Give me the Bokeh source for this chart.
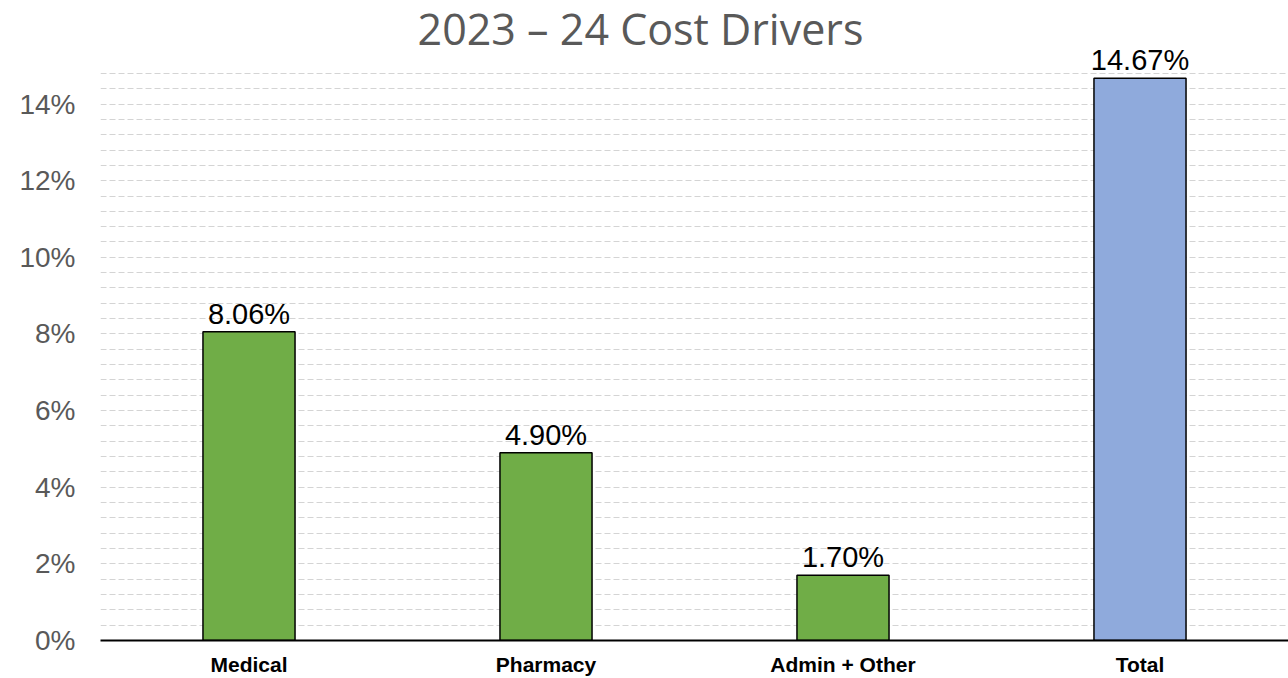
from bokeh.plotting import figure
from bokeh.models import FactorRange, Range1d, FixedTicker, PrintfTickFormatter, ColumnDataSource, LabelSet, Label
from bokeh.core.properties import value
from bokeh.embed import file_html
from bokeh.resources import INLINE

categories = ["Medical", "Pharmacy", "Admin + Other", "Total"]
values = [8.06, 4.90, 1.70, 14.67]
labels = ["8.06%", "4.90%", "1.70%", "14.67%"]
colors = ["#70AD47", "#70AD47", "#70AD47", "#8FAADC"]
y_ticks = [0, 2, 4, 6, 8, 10, 12, 14]
grid_top = 14.8
grid_step = 0.4
title_text = "2023 – 24 Cost Drivers"

# layout (pixels)
W, H = 1288, 678
left, bottom = 100, 37
grid_top_px = 73          # page y of the top gridline
frame_h = H - bottom
y_max = grid_top * frame_h / (frame_h - grid_top_px)
px_per_unit = frame_h / y_max

src = ColumnDataSource(dict(cat=categories, val=values, lab=labels, col=colors))

p = figure(x_range=FactorRange(*categories, range_padding=0), y_range=Range1d(0, y_max),
           width=W, height=H, output_backend="svg", toolbar_location=None,
           min_border_left=left, min_border_right=0, min_border_top=0, min_border_bottom=bottom)

p.vbar(x="cat", top="val", width=0.31, fill_color="col", line_color="black", line_width=1.5, source=src)

p.add_layout(LabelSet(x="cat", y="val", text="lab", source=src, text_align="center", text_baseline="bottom",
                      y_offset=2, text_font=value("Liberation Sans"), text_font_size=value("29px"),
                      text_color=value("black")))

# title, centred on the page
title_x = (W / 2 - 4 - left) / (W - left) * len(categories)
title_y = (frame_h - 28) / px_per_unit
p.add_layout(Label(x=title_x, y=title_y, text=title_text, text_align="center", text_baseline="middle",
                   text_font="Open Sans", text_font_size="43px", text_color="#595959"))

p.outline_line_color = None
p.xgrid.grid_line_color = None
n_grid = int(round(grid_top / grid_step))
p.ygrid.ticker = FixedTicker(ticks=[round(i * grid_step, 2) for i in range(n_grid + 1)])
p.ygrid.grid_line_color = "#d4d4d4"
p.ygrid.grid_line_dash = "6 3"
p.ygrid.grid_line_width = 1

p.yaxis.ticker = FixedTicker(ticks=y_ticks)
p.yaxis.formatter = PrintfTickFormatter(format="%d%%")
p.yaxis.axis_line_color = None
p.yaxis.major_tick_line_color = None
p.yaxis.minor_tick_line_color = None
p.yaxis.major_tick_out = 0
p.yaxis.major_tick_in = 0
p.yaxis.minor_tick_out = 0
p.yaxis.major_label_text_font = "Liberation Sans"
p.yaxis.major_label_text_font_size = "28px"
p.yaxis.major_label_text_color = "#595959"
p.yaxis.major_label_standoff = 25

p.xaxis.axis_line_color = "black"
p.xaxis.axis_line_width = 2
p.xaxis.major_tick_line_color = None
p.xaxis.minor_tick_line_color = None
p.xaxis.major_tick_out = 0
p.xaxis.major_tick_in = 0
p.xaxis.major_label_text_font = "Liberation Sans"
p.xaxis.major_label_text_font_style = "bold"
p.xaxis.major_label_text_font_size = "21px"
p.xaxis.major_label_text_color = "black"
p.xaxis.major_label_standoff = 12

open("out.html", "w").write(file_html(p, INLINE))
